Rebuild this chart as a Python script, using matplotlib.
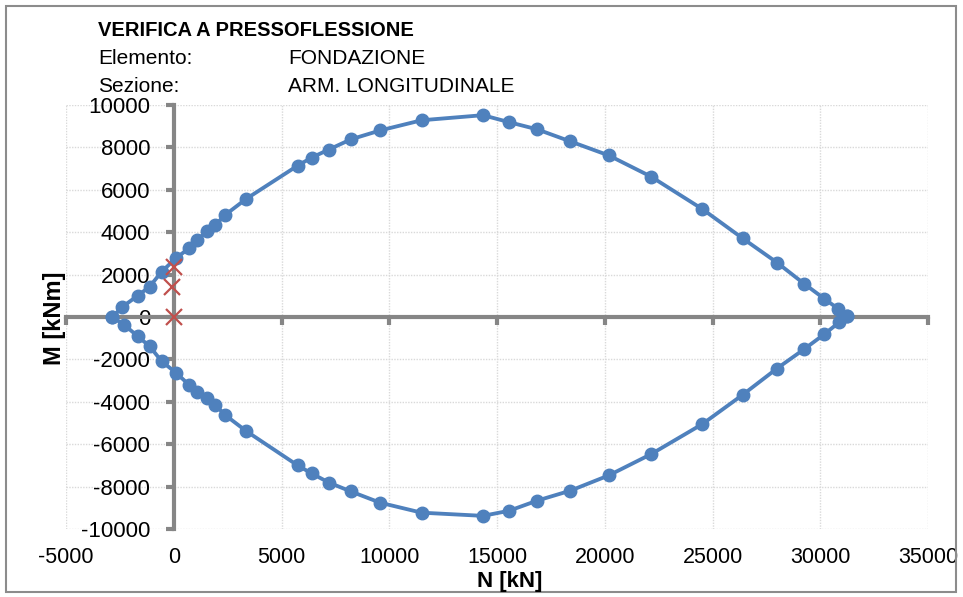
import matplotlib
matplotlib.use("Agg")
import matplotlib.pyplot as plt
from matplotlib.patches import Rectangle

plt.rcParams["font.family"] = ["Liberation Sans", "DejaVu Sans"]
plt.rcParams["axes.unicode_minus"] = False

# dominio resistente M-N (ramo superiore e inferiore)
n_upper = [-2850, -2380, -1680, -1120, -560, 90, 700, 1070, 1540, 1920, 2380, 3360,
           5750, 6400, 7200, 8220, 9580, 11500, 14350, 15560, 16870, 18410, 20190,
           22150, 24530, 26400, 27990, 29250, 30190, 30840, 31260]
m_upper = [0, 480, 1000, 1430, 2140, 2760, 3240, 3620, 4050, 4330, 4810, 5570,
           7140, 7520, 7900, 8380, 8800, 9280, 9520, 9190, 8850, 8280, 7620,
           6620, 5090, 3710, 2570, 1570, 860, 380, 50]
n_lower = [-2850, -2290, -1680, -1120, -560, 90, 700, 1070, 1540, 1920, 2380, 3360,
           5750, 6400, 7200, 8220, 9580, 11500, 14350, 15560, 16870, 18410, 20190,
           22150, 24530, 26400, 27990, 29250, 30190, 30890, 31260]
m_lower = [0, -380, -900, -1380, -2090, -2620, -3190, -3520, -3810, -4140, -4620, -5380,
           -7000, -7380, -7810, -8230, -8760, -9230, -9380, -9140, -8660, -8190, -7470,
           -6470, -5050, -3670, -2430, -1520, -810, -240, 50]

# sollecitazioni di verifica
n_sd = [0, -100, 0]
m_sd = [2380, 1430, 0]

x_ticks = list(range(-5000, 35001, 5000))
y_ticks = list(range(-10000, 10001, 2000))

blue = "#4F81BD"
red = "#C0504D"
axis_grey = "#868686"

fig = plt.figure(figsize=(9.63, 5.97), dpi=100)
ax = fig.add_axes([66 / 963, 1 - 529 / 597, (928 - 66) / 963, (529 - 105) / 597])

ax.plot(n_upper, m_upper, "-o", color=blue, lw=2.75, ms=9, zorder=3)
ax.plot(n_lower, m_lower, "-o", color=blue, lw=2.75, ms=9, zorder=3)
ax.plot(n_sd, m_sd, "x", color=red, ms=11, mew=1.6, zorder=4)

ax.set_xlim(-5000, 35000)
ax.set_ylim(-10000, 10000)
ax.set_xticks(x_ticks)
ax.set_yticks(y_ticks)
ax.grid(True, color="#D9D9D9", linestyle=(0, (1, 1)), lw=1)
ax.set_axisbelow(True)

for side in ["top", "right"]:
    ax.spines[side].set_visible(False)
ax.spines["left"].set_position(("data", 0))
ax.spines["bottom"].set_position(("data", 0))
for side in ["left", "bottom"]:
    ax.spines[side].set_color(axis_grey)
    ax.spines[side].set_linewidth(3)
    ax.spines[side].set_zorder(2)
ax.tick_params(axis="both", direction="out", length=6, width=3, color=axis_grey)
ax.tick_params(axis="y", labelsize=16, pad=11)
ax.tick_params(axis="x", labelbottom=False)

# etichette dell'asse N in basso
sec = ax.secondary_xaxis("bottom")
sec.set_xticks(x_ticks)
sec.spines["bottom"].set_visible(False)
sec.tick_params(length=0, labelsize=15.5, pad=13)

fig.text(55 / 963, 1 - 318 / 597, "M [kNm]", rotation=90, fontsize=17, fontweight="bold",
         ha="center", va="center")
fig.text(510 / 963, 1 - 582 / 597, "N [kN]", fontsize=16, fontweight="bold",
         ha="center", va="center")

fig.text(98 / 963, 1 - 31 / 597, "VERIFICA A PRESSOFLESSIONE", fontsize=14.5,
         fontweight="bold", va="center")
fig.text(98 / 963, 1 - 58 / 597, "Elemento:", fontsize=15, va="center")
fig.text(288 / 963, 1 - 58 / 597, "FONDAZIONE", fontsize=15, va="center")
fig.text(98 / 963, 1 - 86 / 597, "Sezione:", fontsize=15, va="center")
fig.text(288 / 963, 1 - 86 / 597, "ARM. LONGITUDINALE", fontsize=15, va="center")

fig.patches.append(Rectangle((6 / 963, 5 / 597), 950 / 963, 586 / 597,
                             transform=fig.transFigure, fill=False,
                             edgecolor="#8C8C8C", lw=1.5))

fig.savefig("out.png", dpi=100)
